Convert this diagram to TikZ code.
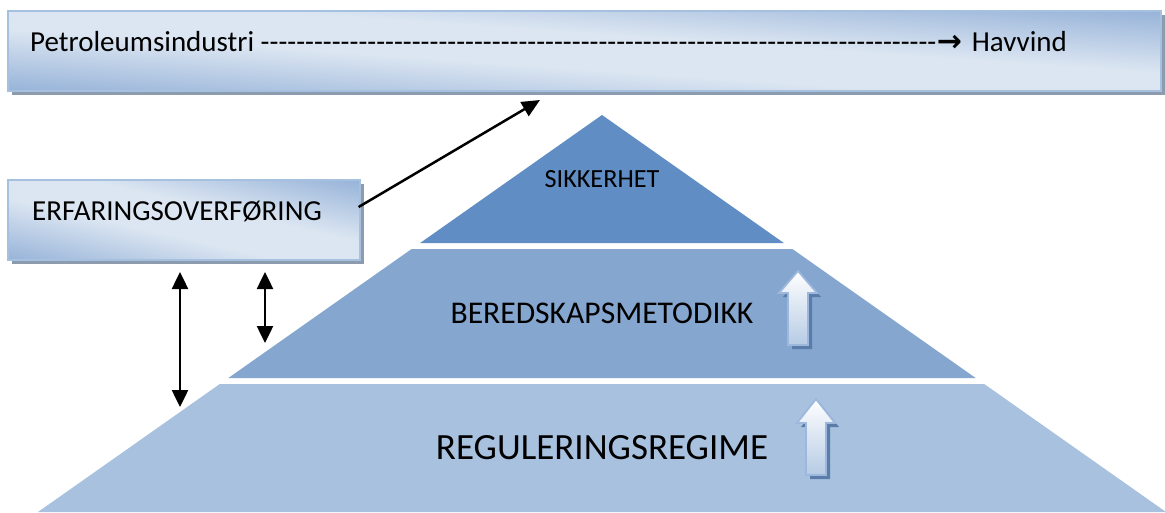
\documentclass[tikz,border=0pt]{standalone}
\usepackage{fontspec}
\setmainfont{Carlito}
\newfontfamily\arrowfont{DejaVu Sans}
\usetikzlibrary{arrows.meta,calc}

\definecolor{tierTop}{HTML}{5F8DC4}
\definecolor{tierMid}{HTML}{84A6CF}
\definecolor{tierLow}{HTML}{A8C1DF}
\definecolor{boxDark}{HTML}{98B4D9}
\definecolor{boxLight}{HTML}{DCE6F2}
\definecolor{boxEdge}{HTML}{A6C0E0}
\definecolor{boxShadow}{HTML}{8D9BAE}
\definecolor{upFill}{HTML}{B6CBE5}
\definecolor{upEdge}{HTML}{9DB8DC}
\definecolor{upShadow}{HTML}{5A7CA8}

% light band along one diagonal of a panel, darker towards the other two corners
\pgfdeclareverticalshading{panelshade}{100bp}{%
  color(0bp)=(boxDark); color(15bp)=(boxDark); color(42bp)=(boxLight);
  color(58bp)=(boxLight); color(85bp)=(boxDark); color(100bp)=(boxDark)}
% white at the tip of the lift arrows, pale blue at the foot
\pgfdeclareverticalshading{liftshade}{100bp}{%
  color(0bp)=(upFill); color(25bp)=(upFill); color(75bp)=(white); color(100bp)=(white)}

\tikzset{
  panel/.style={rectangle, draw=boxEdge, line width=1.2pt, inner sep=0pt},
  txt/.style={inner sep=0pt, text=black},
  oneway/.style={line width=2.5pt, -{Triangle[length=18pt,width=16pt]}},
  twoway/.style={line width=2.5pt, {Triangle[length=17pt,width=16pt]}-{Triangle[length=17pt,width=16pt]}},
  liftbody/.style={draw=upEdge, line width=1.8pt, shade, shading=liftshade},
  liftshadow/.style={fill=upShadow},
}

% shadow and diagonal gradient of a panel: centre x, centre y, half width, half height;
% a shaded square is stretched onto the panel so the bands follow its diagonal
\newcommand\panelback[4]{%
  \fill[boxShadow] (#1-#3+4,#2-#4+4) rectangle (#1+#3+4,#2+#4+4);
  \begin{scope}[transform canvas={shift={(#1,#2)}, xscale=#3/#4}]
    \shade[shading=panelshade, shading angle=135] (-#4,-#4) rectangle (#4,#4);
  \end{scope}
}

% upward block arrow: centre x, tip y, head base y, foot y
\newcommand\liftarrow[4]{%
  \fill[liftshadow] (#1-10+4,#4+4) -- (#1-10+4,#3+4) -- (#1-19+4,#3+4) -- (#1+4,#2+4)
    -- (#1+19+4,#3+4) -- (#1+10+4,#3+4) -- (#1+10+4,#4+4) -- cycle;
  \path[liftbody] (#1-10,#4) -- (#1-10,#3) -- (#1-19,#3) -- (#1,#2)
    -- (#1+19,#3) -- (#1+10,#3) -- (#1+10,#4) -- cycle;
}

\begin{document}
\begin{tikzpicture}[x=1pt,y=-1pt]
  \clip (0,0) rectangle (1165,512);
  \fill[white] (0,0) rectangle (1165,512);

  % three-tier pyramid, apex (602,115), edges with slope 1.4207
  \coordinate (apex) at (602,115);
  \fill[tierTop] (apex) -- (783.85,243) -- (420.15,243) -- cycle;
  \fill[tierMid] (411.63,249) -- (792.37,249) -- (975.64,378) -- (228.36,378) -- cycle;
  \fill[tierLow] (219.83,384) -- (984.17,384) -- (1166,512) -- (38,512) -- cycle;

  \node[txt, font=\fontsize{26.2}{30}\selectfont, anchor=base] (safety) at (602,187) {SIKKERHET};
  \node[txt, font=\fontsize{31.6}{36}\selectfont, anchor=base] (method) at (602,323) {BEREDSKAPSMETODIKK};
  \node[txt, font=\fontsize{37}{42}\selectfont, anchor=base] (regime) at (602,459) {REGULERINGSREGIME};

  \liftarrow{798}{271}{293}{345}
  \liftarrow{816}{399}{423}{475}

  % top banner
  \panelback{584.5}{51}{576.5}{40}
  \node[panel, minimum width=1153pt, minimum height=80pt] (banner) at (584.5,51) {};
  \node[txt, font=\fontsize{29}{34}\selectfont, anchor=base west] (path) at (30,51)
    {Petroleumsindustri \hbox to 676pt{\xleaders\hbox{-}\hfill}{\arrowfont\bfseries\fontsize{30}{30}\selectfont→}\hspace{10pt}Havvind};

  % experience-transfer box
  \panelback{184}{220}{176}{40}
  \node[panel, minimum width=352pt, minimum height=80pt] (erf) at (184,220) {};
  \node[txt, font=\fontsize{29}{34}\selectfont, anchor=base west] (erftext) at (32,220) {ERFARINGSOVERFØRING};

  % connectors
  \coordinate (toBanner) at (540,100);
  \coordinate (lowTop) at (180,272);
  \coordinate (lowEnd) at (180,407);
  \coordinate (midTop) at (265,272);
  \coordinate (midEnd) at (265,343);
  \draw[oneway] ($(erf.east)+(-2,-13)$) -- (toBanner);
  \draw[twoway] (lowTop) -- (lowEnd);
  \draw[twoway] (midTop) -- (midEnd);
\end{tikzpicture}
\end{document}
